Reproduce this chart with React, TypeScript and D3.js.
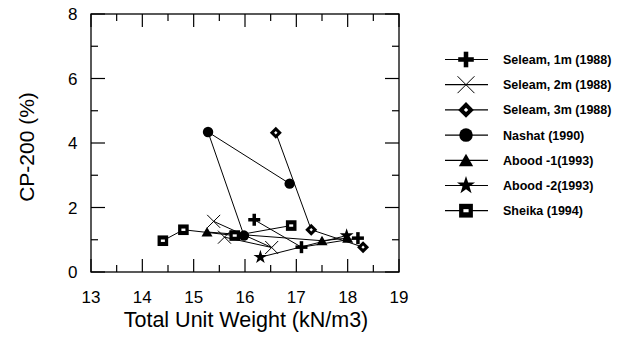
import React from "react";
import * as d3 from "d3";

const seleam1X = [16.18, 17.1, 18.2];
const seleam1Y = [1.62, 0.77, 1.05];
const seleam2X = [15.39, 16.52, 15.6];
const seleam2Y = [1.57, 0.76, 1.08];
const seleam3X = [16.6, 17.29, 18.3];
const seleam3Y = [4.32, 1.31, 0.77];
const nashatX = [16.87, 15.28, 15.98];
const nashatY = [2.74, 4.34, 1.13];
const abood1X = [15.26, 17.5, 18.0];
const abood1Y = [1.24, 0.97, 1.05];
const abood2X = [16.3, 17.98];
const abood2Y = [0.46, 1.13];
const sheikaX = [14.4, 14.8, 15.8, 16.9];
const sheikaY = [0.97, 1.31, 1.13, 1.44];

const seriesNames = [
  "Seleam, 1m (1988)",
  "Seleam, 2m (1988)",
  "Seleam, 3m (1988)",
  "Nashat (1990)",
  "Abood -1(1993)",
  "Abood -2(1993)",
  "Sheika (1994)",
];
const seriesKinds = ["plus", "x", "diamond", "circle", "triangle", "star", "square"];

const xTicks = [13, 14, 15, 16, 17, 18, 19];
const yTicks = [0, 2, 4, 6, 8];

const L = 91, R = 399, T = 14, B = 272;

function Marker({ kind, cx, cy, s = 1 }: { kind: string; cx: number; cy: number; s?: number }) {
  const t = `translate(${cx},${cy}) scale(${s})`;
  switch (kind) {
    case "plus":
      return (
        <g transform={t} stroke="#000" strokeWidth={3.5}>
          <line x1={-6} y1={0} x2={6} y2={0} />
          <line x1={0} y1={-6} x2={0} y2={6} />
        </g>
      );
    case "x":
      return (
        <g transform={t} stroke="#000" strokeWidth={1 / s}>
          <line x1={-6.5} y1={-6.5} x2={6.5} y2={6.5} />
          <line x1={-6.5} y1={6.5} x2={6.5} y2={-6.5} />
        </g>
      );
    case "diamond":
      return (
        <g transform={t}>
          <path d="M0,-6L6,0L0,6L-6,0Z" fill="#000" />
          <path d="M0,-1.7L1.7,0L0,1.7L-1.7,0Z" fill="#fff" />
        </g>
      );
    case "circle":
      return (
        <g transform={t}>
          <circle cx={0} cy={0} r={5.2} fill="#000" />
        </g>
      );
    case "triangle":
      return <path transform={t} d="M0,-5L5.5,4.5L-5.5,4.5Z" fill="#000" />;
    case "star":
      return (
        <path
          transform={t}
          d={d3.symbol().type(d3.symbolStar).size(60)() as string}
          fill="#000"
        />
      );
    case "square":
      return (
        <g transform={t}>
          <rect x={-5.3} y={-5.3} width={10.6} height={10.6} fill="#000" />
          <rect x={-2} y={-1.2} width={4} height={2.4} fill="#fff" />
        </g>
      );
  }
  return null;
}

export default function App() {
  const x = d3.scaleLinear().domain([13, 19]).range([L, R]);
  const y = d3.scaleLinear().domain([0, 8]).range([B, T]);
  const xs = [seleam1X, seleam2X, seleam3X, nashatX, abood1X, abood2X, sheikaX];
  const ys = [seleam1Y, seleam2Y, seleam3Y, nashatY, abood1Y, abood2Y, sheikaY];
  const line = d3
    .line<[number, number]>()
    .x((d) => x(d[0]))
    .y((d) => y(d[1]));

  const xMinor = d3.range(13.5, 19, 1);
  const yMinor = d3.range(1, 8, 2);

  return (
    <svg width={626} height={338} style={{ position: "absolute", left: 0, top: 0 }}
      fontFamily="'Liberation Sans', Arial, sans-serif">
      <rect x={0} y={0} width={626} height={338} fill="#fff" />
      <rect x={L} y={T} width={R - L} height={B - T} fill="none" stroke="#000" strokeWidth={1.3} />
      {xTicks.map((v) => (
        <g key={"xt" + v}>
          <line x1={x(v)} x2={x(v)} y1={B} y2={B - 13} stroke="#000" strokeWidth={1.2} />
          <line x1={x(v)} x2={x(v)} y1={T} y2={T + 13} stroke="#000" strokeWidth={1.2} />
          <text x={x(v)} y={303} fontSize={17} textAnchor="middle">{v}</text>
        </g>
      ))}
      {xMinor.map((v) => (
        <g key={"xm" + v}>
          <line x1={x(v)} x2={x(v)} y1={B} y2={B - 7} stroke="#000" strokeWidth={1.2} />
          <line x1={x(v)} x2={x(v)} y1={T} y2={T + 7} stroke="#000" strokeWidth={1.2} />
        </g>
      ))}
      {yTicks.map((v) => (
        <g key={"yt" + v}>
          <line x1={L} x2={L + 14} y1={y(v)} y2={y(v)} stroke="#000" strokeWidth={1.2} />
          <line x1={R} x2={R - 14} y1={y(v)} y2={y(v)} stroke="#000" strokeWidth={1.2} />
          <text x={77.5} y={y(v) + 6} fontSize={17} textAnchor="end">{v}</text>
        </g>
      ))}
      {yMinor.map((v) => (
        <g key={"ym" + v}>
          <line x1={L} x2={L + 7} y1={y(v)} y2={y(v)} stroke="#000" strokeWidth={1.2} />
          <line x1={R} x2={R - 7} y1={y(v)} y2={y(v)} stroke="#000" strokeWidth={1.2} />
        </g>
      ))}
      <text x={246} y={327} fontSize={21.5} textAnchor="middle">Total Unit Weight (kN/m3)</text>
      <text transform="translate(34,147) rotate(-90)" fontSize={21} textAnchor="middle">CP-200 (%)</text>

      {xs.map((sx, i) => {
        const pts = sx.map((v, j) => [v, ys[i][j]] as [number, number]);
        return (
          <g key={"s" + i}>
            <path d={line(pts) as string} fill="none" stroke="#000" strokeWidth={1} />
            {pts.map((p, j) => (
              <Marker key={j} kind={seriesKinds[i]} cx={x(p[0])} cy={y(p[1])} />
            ))}
          </g>
        );
      })}

      {seriesNames.map((name, i) => {
        const ly = 59.5 + i * 25.2;
        return (
          <g key={"lg" + i}>
            <line x1={445} x2={488} y1={ly} y2={ly} stroke="#000" strokeWidth={1.2} />
            <Marker kind={seriesKinds[i]} cx={466} cy={ly} s={1.3} />
            <text x={503} y={ly + 4.5} fontSize={12.5} fontWeight="bold">{name}</text>
          </g>
        );
      })}
    </svg>
  );
}
